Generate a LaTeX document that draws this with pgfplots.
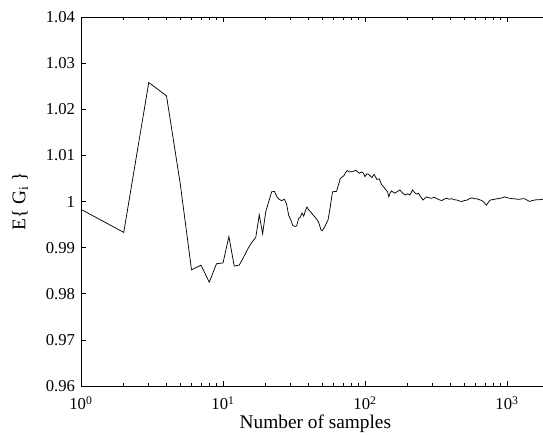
\documentclass[border=0pt]{standalone}
\usepackage{pgfplots}
\pgfplotsset{compat=1.18}
\usepackage{fontspec}
\setmainfont{Liberation Serif}

\begin{document}
\begin{tikzpicture}
\begin{axis}[
  at={(0,0)}, anchor=south west,
  scale only axis,
  width=351.6pt, height=276.75pt,
  xmode=log,
  xmin=1, xmax=2000,
  ymin=0.96, ymax=1.04,
  xtick={1,10,100,1000},
  xticklabels={10\textsuperscript{0},10\textsuperscript{1},10\textsuperscript{2},10\textsuperscript{3}},
  ytick={0.96,0.97,0.98,0.99,1,1.01,1.02,1.03,1.04},
  yticklabels={0.96,0.97,0.98,0.99,1,1.01,1.02,1.03,1.04},
  tick align=inside,
  major tick length=4pt,
  minor tick length=2.2pt,
  tick style={black, line width=0.5pt},
  axis line style={line width=0.6pt},
  ticklabel style={font=\fontsize{12.5}{14}\selectfont},
  xticklabel style={anchor=base, yshift=-18pt},
  yticklabel style={xshift=-1pt},
  label style={font=\fontsize{14.5}{16}\selectfont},
  xlabel={Number of samples},
  ylabel={E\{ G\textsubscript{i} \}},
  xlabel style={at={(axis description cs:0.5,0)}, anchor=center, yshift=-28.5pt},
  ylabel style={at={(axis description cs:-0.130,0.5)}, anchor=center},
]
\addplot[black, line width=0.55pt] coordinates {
(1,0.9983) (2,0.9933) (3,1.0258) (4,1.0229) (5,1.0038) (6,0.9852)
(7,0.9862) (8,0.9825) (9,0.9865) (10,0.9867) (11,0.9924) (12,0.9860)
(13,0.9862) (14,0.9880) (15,0.9898) (16,0.9912) (17,0.9922) (18,0.9971)
(19,0.9930) (20,0.9978) (21,1.0000) (22,1.0021) (23,1.0022) (24,1.0010)
(25,1.0004) (26,1.0002) (27,1.0005) (28,0.9995) (29,0.9970) (30,0.9960)
(31,0.9948) (32,0.9946) (33,0.9947) (34,0.9963) (35,0.9966) (36,0.9975)
(37,0.9968) (38,0.9980) (39,0.9988) (40,0.9982) (41,0.9979) (43,0.9971)
(45,0.9964) (47,0.9956) (49,0.9938) (50,0.9937) (52,0.9945) (55,0.9961)
(57,0.9990) (59,1.0021) (63,1.0022) (67,1.0050) (71,1.0056) (73,1.0063)
(75,1.0067) (78,1.0064) (81,1.0065) (84,1.0066) (86,1.0068) (89,1.0064)
(91,1.0061) (94,1.0064) (97,1.0062) (100,1.0054) (103,1.0060) (106,1.0059)
(109,1.0055) (112,1.0052) (116,1.0059) (121,1.0048) (126,1.0049) (131,1.0036)
(135,1.0032) (138,1.0028) (144,1.0021) (147,1.0010) (150,1.0018) (154,1.0023)
(158,1.0020) (162,1.0018) (170,1.0022) (176,1.0025) (184,1.0018) (192,1.0014)
(200,1.0017) (207,1.0014) (216,1.0025) (224,1.0019) (231,1.0016) (238,1.0018)
(244,1.0012) (250,1.0008) (256,1.0003) (264,1.0007) (271,1.0010) (282,1.0008)
(294,1.0007) (306,1.0009) (318,1.0007) (332,1.0004) (347,1.0002) (360,1.0005)
(376,1.0007) (390,1.0005) (406,1.0006) (425,1.0004) (445,1.0003) (462,1.0001)
(480,1.0000) (500,1.0002) (522,1.0003) (543,1.0006) (565,1.0008) (588,1.0006)
(610,1.0006) (638,1.0004) (665,1.0002) (690,0.9998) (715,0.9992) (738,0.9998)
(760,1.0003) (790,1.0004) (823,1.0005) (855,1.0006) (890,1.0007) (925,1.0008)
(960,1.0010) (1005,1.0008) (1050,1.0007) (1090,1.0006) (1130,1.0006) (1180,1.0005)
(1230,1.0005) (1280,1.0006) (1330,1.0006) (1385,1.0003) (1440,1.0000) (1500,1.0002)
(1560,1.0003) (1620,1.0004) (1700,1.0004) (1790,1.0005) (1900,1.0005) (2000,1.0004)
};
\end{axis}
\pgfresetboundingbox
\useasboundingbox (-60.75pt,-36.75pt) rectangle (346.5pt,289.5pt);
\end{tikzpicture}
\end{document}
